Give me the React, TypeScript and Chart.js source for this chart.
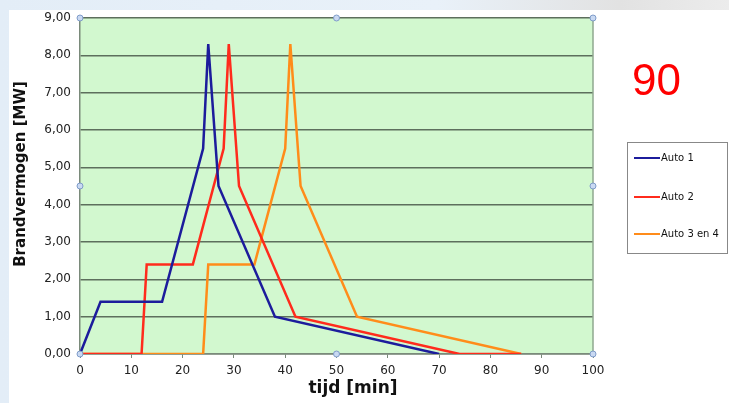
import React, { useEffect, useRef } from "react";
import { Chart, registerables } from "chart.js";

Chart.register(...registerables);

const seriesLabels = ["Auto 1", "Auto 2", "Auto 3 en 4"];
const seriesColors = ["#1c1c9c", "#ff2b1c", "#ff8c1a"];
const auto1X = [0, 4, 16, 24, 25, 27, 38, 70];
const auto1Y = [0, 1.4, 1.4, 5.5, 8.3, 4.5, 1.0, 0];
const auto2X = [0, 12, 13, 22, 28, 29, 31, 42, 74, 86];
const auto2Y = [0, 0, 2.4, 2.4, 5.5, 8.3, 4.5, 1.0, 0, 0];
const auto3X = [0, 24, 25, 34, 40, 41, 43, 54, 86];
const auto3Y = [0, 0, 2.4, 2.4, 5.5, 8.3, 4.5, 1.0, 0];
const xTicks = [0, 10, 20, 30, 40, 50, 60, 70, 80, 90, 100];
const yTicks = [0, 1, 2, 3, 4, 5, 6, 7, 8, 9];
const xTitle = "tijd [min]";
const yTitle = "Brandvermogen [MW]";

const toPoints = (xs: number[], ys: number[]) => xs.map((x, i) => ({ x, y: ys[i] }));

const extrasPlugin = {
  id: "extras",
  beforeDraw(chart: any) {
    const { ctx, chartArea } = chart;
    ctx.save();
    ctx.fillStyle = "#d2f8cf";
    ctx.fillRect(chartArea.left, chartArea.top, chartArea.right - chartArea.left, chartArea.bottom - chartArea.top);
    ctx.restore();
  },
  afterDraw(chart: any) {
    const { ctx, chartArea } = chart;
    ctx.save();
    ctx.strokeStyle = "#8fa88f";
    ctx.lineWidth = 1.5;
    ctx.beginPath();
    ctx.moveTo(chartArea.right, chartArea.top);
    ctx.lineTo(chartArea.right, chartArea.bottom);
    ctx.stroke();
    const midX = (chartArea.left + chartArea.right) / 2;
    const midY = (chartArea.top + chartArea.bottom) / 2;
    const handles = [
      [chartArea.left, chartArea.top], [midX, chartArea.top], [chartArea.right, chartArea.top],
      [chartArea.left, midY], [chartArea.right, midY],
      [chartArea.left, chartArea.bottom], [midX, chartArea.bottom], [chartArea.right, chartArea.bottom],
    ];
    handles.forEach(([hx, hy]) => {
      ctx.beginPath();
      ctx.arc(hx, hy, 3, 0, Math.PI * 2);
      ctx.fillStyle = "#c9d9f2";
      ctx.fill();
      ctx.strokeStyle = "#7f9cc9";
      ctx.lineWidth = 1;
      ctx.stroke();
    });
    // axis titles
    ctx.fillStyle = "#111111";
    ctx.font = "bold 17px 'DejaVu Sans'";
    ctx.textAlign = "center";
    ctx.textBaseline = "alphabetic";
    ctx.fillText(xTitle, 353, 393);
    ctx.save();
    ctx.translate(25, 174);
    ctx.rotate(-Math.PI / 2);
    ctx.font = "bold 15px 'DejaVu Sans'";
    ctx.fillText(yTitle, 0, 0);
    ctx.restore();
    // legend
    const lx = 627, ly = 142, lw = 100, lh = 111;
    ctx.strokeStyle = "#888888";
    ctx.lineWidth = 1;
    ctx.strokeRect(lx + 0.5, ly + 0.5, lw, lh);
    const rows = [158, 197, 234];
    ctx.font = "10px 'DejaVu Sans'";
    ctx.textAlign = "left";
    ctx.textBaseline = "middle";
    chart.data.datasets.forEach((ds: any, i: number) => {
      ctx.strokeStyle = ds.borderColor;
      ctx.lineWidth = 2;
      ctx.beginPath();
      ctx.moveTo(634, rows[i]);
      ctx.lineTo(660, rows[i]);
      ctx.stroke();
      ctx.fillStyle = "#111111";
      ctx.fillText(ds.label, 661, rows[i]);
    });
    ctx.restore();
  },
};

export default function App() {
  const canvasRef = useRef<HTMLCanvasElement>(null);

  useEffect(() => {
    if (!canvasRef.current) return;
    const series = [toPoints(auto1X, auto1Y), toPoints(auto2X, auto2Y), toPoints(auto3X, auto3Y)];
    const chart = new Chart(canvasRef.current, {
      type: "line",
      data: {
        datasets: series.map((data, i) => ({
          label: seriesLabels[i],
          data,
          borderColor: seriesColors[i],
          backgroundColor: seriesColors[i],
          borderWidth: 2.5,
          pointRadius: 0,
          tension: 0,
          fill: false,
        })),
      },
      options: {
        animation: false,
        responsive: false,
        maintainAspectRatio: false,
        layout: { padding: { left: 0, right: 136, top: 18, bottom: 0 } },
        plugins: { legend: { display: false }, tooltip: { enabled: false } },
        scales: {
          x: {
            type: "linear",
            min: 0,
            max: 100,
            afterBuildTicks: (scale: any) => {
              scale.ticks = xTicks.map((v) => ({ value: v }));
            },
            afterFit: (scale: any) => {
              scale.height = 49;
            },
            ticks: {
              color: "#222222",
              font: { family: "'DejaVu Sans'", size: 12 },
              padding: 6,
              maxRotation: 0,
            },
            grid: {
              drawOnChartArea: false,
              drawTicks: true,
              tickLength: 4,
              color: "#7a8a7a",
            },
            border: { color: "#7a8a7a", width: 1.5 },
          },
          y: {
            type: "linear",
            min: 0,
            max: 9,
            afterBuildTicks: (scale: any) => {
              scale.ticks = yTicks.map((v) => ({ value: v }));
            },
            afterFit: (scale: any) => {
              scale.width = 80;
            },
            ticks: {
              color: "#222222",
              font: { family: "'DejaVu Sans'", size: 12 },
              padding: 9,
              callback: (v: any) => Number(v).toFixed(2).replace(".", ","),
            },
            grid: {
              color: "#5d6f5d",
              lineWidth: 1.5,
              drawTicks: false,
            },
            border: { color: "#7a8a7a", width: 1.5 },
          },
        },
      },
      plugins: [extrasPlugin],
    });
    return () => chart.destroy();
  }, []);

  return (
    <div
      style={{
        position: "absolute",
        left: 0,
        top: 0,
        width: 729,
        height: 403,
        overflow: "hidden",
        background: "linear-gradient(90deg, #e3edf7 0%, #e9f1f9 60%, #e2e2e2 85%, #ececec 100%)",
      }}
    >
      <div style={{ position: "absolute", left: 9, top: 10, width: 720, height: 393, background: "#ffffff" }} />
      <canvas ref={canvasRef} width={729} height={403} style={{ position: "absolute", left: 0, top: 0 }} />
      <div
        style={{
          position: "absolute",
          left: 632,
          top: 58,
          fontFamily: "'Liberation Sans', Arial, sans-serif",
          fontSize: 44,
          lineHeight: "44px",
          color: "#ff0000",
        }}
      >
        90
      </div>
    </div>
  );
}
